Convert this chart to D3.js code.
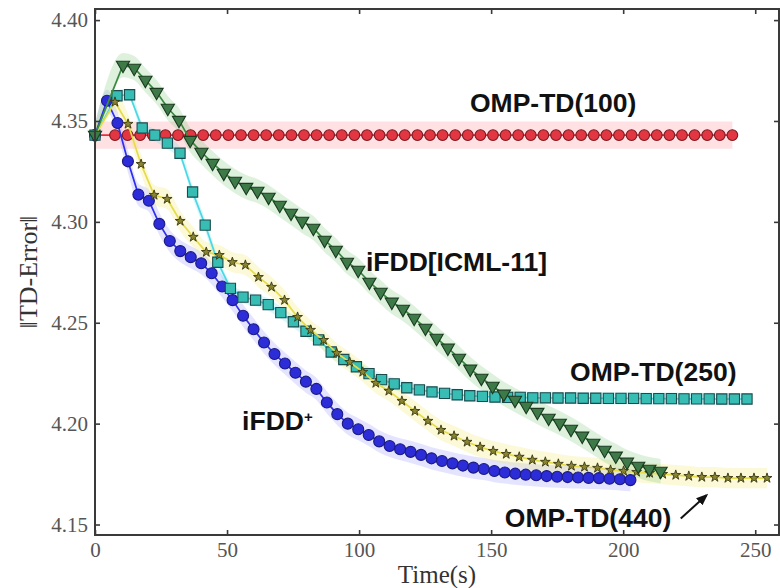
<!DOCTYPE html>
<html>
<head>
<meta charset="utf-8">
<script src="https://cdn.jsdelivr.net/npm/d3@7"></script>
<style>
  body { margin: 0; background: #fff; }
  svg { display: block; }
</style>
</head>
<body>
<svg id="chart" width="780" height="588"></svg>
<script>
// ---------------------------------------------------------------
// Data: TD-error norm over wall-clock time (seconds).
// Every run is evaluated at t = 0, then at regular checkpoints.
// ---------------------------------------------------------------
const xTicks = [0, 50, 100, 150, 200, 250];
const yTicks = [4.15, 4.20, 4.25, 4.30, 4.35, 4.40];

// OMP-TD(100)
const omp100FirstT = 7.57, omp100StepT = 4.771;
const omp100Values = [4.343,
  4.343, 4.343, 4.343, 4.343, 4.343, 4.343, 4.343, 4.343, 4.343, 4.343,
  4.343, 4.343, 4.343, 4.343, 4.343, 4.343, 4.343, 4.343, 4.343, 4.343,
  4.343, 4.343, 4.343, 4.343, 4.343, 4.343, 4.343, 4.343, 4.343, 4.343,
  4.343, 4.343, 4.343, 4.343, 4.343, 4.343, 4.343, 4.343, 4.343, 4.343,
  4.343, 4.343, 4.343, 4.343, 4.343, 4.343, 4.343, 4.343, 4.343, 4.343];

// iFDD+
const ifddPlusFirstT = 4.54, ifddPlusStepT = 3.964;
const ifddPlusValues = [4.343,
  4.360, 4.349, 4.330, 4.3135, 4.3105, 4.299, 4.2905, 4.2855, 4.2825, 4.2795,
  4.2745, 4.268, 4.2612, 4.2535, 4.2468, 4.2402, 4.2345, 4.2298, 4.2252, 4.2208,
  4.2172, 4.2105, 4.2047, 4.2000, 4.1972, 4.1944, 4.1912, 4.1889, 4.1873, 4.186,
  4.1845, 4.1828, 4.1815, 4.1803, 4.1792, 4.1782, 4.1775, 4.1765, 4.1758, 4.1752,
  4.1747, 4.1744, 4.174, 4.1737, 4.1735, 4.1733, 4.1731, 4.173, 4.1727, 4.1724,
  4.172];

// OMP-TD(250)
const omp250FirstT = 8.33, omp250StepT = 4.771;
const omp250Values = [4.343,
  4.3625, 4.363, 4.3465, 4.343, 4.339, 4.334, 4.3148, 4.2984, 4.280, 4.267,
  4.2627, 4.2612, 4.2590, 4.2550, 4.2505, 4.2458, 4.2415, 4.2355, 4.2318, 4.2282,
  4.2248, 4.2218, 4.2197, 4.2178, 4.2167, 4.2157, 4.2150, 4.2143, 4.2138, 4.2135,
  4.2132, 4.2130, 4.2130, 4.2128, 4.2128, 4.2127, 4.2127, 4.2126, 4.2126, 4.2125,
  4.2125, 4.2125, 4.2124, 4.2124, 4.2124, 4.2123, 4.2123, 4.2123, 4.2122, 4.2122,
  4.2122];

// OMP-TD(440)
const omp440FirstT = 7.57, omp440StepT = 4.938;
const omp440Values = [4.343,
  4.3594, 4.3485, 4.3286, 4.3133, 4.3113, 4.3004, 4.2925, 4.285, 4.2835, 4.280,
  4.2786, 4.2726, 4.2677, 4.2612, 4.2528, 4.2464, 4.2414, 4.235, 4.2305, 4.2256,
  4.2201, 4.2162, 4.2112, 4.2062, 4.2013, 4.1968, 4.1939, 4.1909, 4.1884, 4.1864,
  4.1849, 4.1835, 4.182, 4.181, 4.180, 4.179, 4.1785, 4.178, 4.177, 4.1765,
  4.176, 4.1755, 4.175, 4.1745, 4.174, 4.1735, 4.1735, 4.173, 4.173, 4.173,
  4.173];

// iFDD [ICML-11]
const ifddFirstT = 10.6, ifddStepT = 4.241;
const ifddValues = [4.343,
  4.3777, 4.3762, 4.3703, 4.3643, 4.3564, 4.3504, 4.3405, 4.3346, 4.3291, 4.3242,
  4.3202, 4.3172, 4.3153, 4.3123, 4.3083, 4.3044, 4.3004, 4.2969, 4.291, 4.286,
  4.2801, 4.2761, 4.2702, 4.2652, 4.2603, 4.2568, 4.2523, 4.2474, 4.2424, 4.2375,
  4.2325, 4.2271, 4.2226, 4.2186, 4.2147, 4.2117, 4.2087, 4.2057, 4.2028, 4.2003,
  4.1973, 4.1939, 4.1904, 4.1869, 4.184, 4.181, 4.179, 4.1775, 4.1765];

// half-width of the shaded confidence band of each run
const omp100Spread = 0.0068;
const ifddPlusSpread = 0.0055;
const omp250Spread = 0.0030;
const omp440Spread = 0.0050;
const ifddSpread = 0.0060;

// ---------------------------------------------------------------
const svg = d3.select("#chart");
const margin = { left: 95, right: 1, top: 9, bottom: 53 };
const W = 780, H = 588;

const x = d3.scaleLinear().domain([0, 259]).range([margin.left, W - margin.right]);
const y = d3.scaleLinear().domain([4.1448, 4.4055]).range([H - margin.bottom, margin.top]);

function makeRun(firstT, stepT, values) {
  const times = [0].concat(d3.range(values.length - 1).map(i => firstT + i * stepT));
  return values.map((v, i) => ({ t: times[i], v }));
}

const runs = [
  { name: "omp100", pts: makeRun(omp100FirstT, omp100StepT, omp100Values), spread: omp100Spread,
    band: "rgba(255,120,130,0.22)", line: "#e4303a", fill: "#e23642", stroke: "#7a1a20",
    symbol: d3.symbolCircle, size: 90, rot: 0, sw: 1.1 },
  { name: "ifddPlus", pts: makeRun(ifddPlusFirstT, ifddPlusStepT, ifddPlusValues), spread: ifddPlusSpread,
    band: "rgba(130,130,255,0.22)", line: "#2f2ff0", fill: "#2c2cd8", stroke: "#1a1a80",
    symbol: d3.symbolCircle, size: 95, rot: 0, sw: 1.1 },
  { name: "omp250", pts: makeRun(omp250FirstT, omp250StepT, omp250Values), spread: omp250Spread,
    band: "rgba(80,220,230,0.22)", line: "#4ad8e4", fill: "#38bdb4", stroke: "#1b4b4c",
    symbol: d3.symbolSquare, size: 105, rot: 0, sw: 1.1 },
  { name: "omp440", pts: makeRun(omp440FirstT, omp440StepT, omp440Values), spread: omp440Spread,
    band: "rgba(240,235,110,0.28)", line: "#e6dc4a", fill: "#8a8530", stroke: "#3a3812",
    symbol: d3.symbolStar, size: 30, rot: 0, sw: 0.9 },
  { name: "ifdd", pts: makeRun(ifddFirstT, ifddStepT, ifddValues), spread: ifddSpread,
    band: "rgba(120,200,120,0.25)", line: "#3b8a40", fill: "#3e7a48", stroke: "#1b3a20",
    symbol: d3.symbolTriangle, size: 75, rot: 180, sw: 1.1 }
];

// confidence bands (all drawn under the lines)
const bandG = svg.append("g");
runs.forEach(r => {
  const area = d3.area()
    .x(d => x(d.t))
    .y0(d => y(d.v - r.spread))
    .y1(d => y(d.v + r.spread))
    .curve(d3.curveMonotoneX);
  bandG.append("path").datum(r.pts)
    .attr("d", area)
    .attr("fill", r.band)
    .attr("stroke", "none");
});

// lines and markers
const line = d3.line().x(d => x(d.t)).y(d => y(d.v));
runs.forEach(r => {
  const g = svg.append("g").attr("class", r.name);
  g.append("path").datum(r.pts)
    .attr("d", line)
    .attr("fill", "none")
    .attr("stroke", r.line)
    .attr("stroke-width", 1.7);
  const sym = d3.symbol().type(r.symbol).size(r.size);
  g.selectAll("path.m").data(r.pts).join("path")
    .attr("class", "m")
    .attr("d", sym)
    .attr("transform", d => `translate(${x(d.t)},${y(d.v)}) rotate(${r.rot})`)
    .attr("fill", r.fill)
    .attr("stroke", r.stroke)
    .attr("stroke-width", r.sw);
});

// ---------------------------------------------------------------
// axes: ticks point inward on all four sides of the box
const axisColor = "#3a3a3a";
const tickFont = "'Liberation Serif', 'DejaVu Serif', serif";

const gx = svg.append("g").attr("transform", `translate(0,${H - margin.bottom})`)
  .call(d3.axisBottom(x).tickValues(xTicks).tickSizeInner(-5).tickSizeOuter(0).tickPadding(7));
const gy = svg.append("g").attr("transform", `translate(${margin.left},0)`)
  .call(d3.axisLeft(y).tickValues(yTicks).tickFormat(d3.format(".2f")).tickSizeInner(-5).tickSizeOuter(0).tickPadding(7));
const gt = svg.append("g").attr("transform", `translate(0,${margin.top})`)
  .call(d3.axisTop(x).tickValues(xTicks).tickSizeInner(-5).tickSizeOuter(0).tickFormat(""));
const gr = svg.append("g").attr("transform", `translate(${W - margin.right},0)`)
  .call(d3.axisRight(y).tickValues(yTicks).tickSizeInner(-5).tickSizeOuter(0).tickFormat(""));

[gx, gy, gt, gr].forEach(g => {
  g.select(".domain").remove();
  g.selectAll(".tick line").attr("stroke", axisColor).attr("stroke-width", 1.6);
  g.selectAll(".tick text").attr("fill", "#555").attr("font-family", tickFont).attr("font-size", 21);
});

// frame
svg.append("rect")
  .attr("x", margin.left).attr("y", margin.top)
  .attr("width", W - margin.right - margin.left)
  .attr("height", H - margin.bottom - margin.top)
  .attr("fill", "none").attr("stroke", axisColor).attr("stroke-width", 2);

// axis titles
svg.append("text")
  .attr("x", 437).attr("y", 583)
  .attr("text-anchor", "middle")
  .attr("font-family", tickFont).attr("font-size", 25).attr("fill", "#333")
  .text("Time(s)");
svg.append("text")
  .attr("transform", `translate(37,${(margin.top + H - margin.bottom) / 2}) rotate(-90)`)
  .attr("text-anchor", "middle")
  .attr("font-family", tickFont).attr("font-size", 26).attr("fill", "#333")
  .text("\u2016TD-Error\u2016");

// ---------------------------------------------------------------
// run labels
const labelFont = "'Liberation Sans', Arial, Helvetica, sans-serif";
function label(t, v, txt) {
  return svg.append("text")
    .attr("x", x(t)).attr("y", y(v))
    .attr("font-family", labelFont).attr("font-weight", "bold")
    .attr("font-size", 26.5).attr("fill", "#111")
    .text(txt);
}
label(142.0, 4.3545, "OMP-TD(100)");
label(102.6, 4.2757, "iFDD[ICML-11]");
label(179.9, 4.2212, "OMP-TD(250)");
label(155.2, 4.1489, "OMP-TD(440)");
const plus = label(55.7, 4.1969, "iFDD");
plus.append("tspan").attr("font-size", 15).attr("dy", -8).text("+");

// arrow pointing at the OMP-TD(440) curve
svg.append("defs").append("marker")
  .attr("id", "arrowhead").attr("viewBox", "0 0 10 10")
  .attr("refX", 8).attr("refY", 5)
  .attr("markerWidth", 6).attr("markerHeight", 6)
  .attr("orient", "auto")
  .append("path").attr("d", "M0,1 L10,5 L0,9 z").attr("fill", "#111");
svg.append("line")
  .attr("x1", x(221.8)).attr("y1", y(4.1530))
  .attr("x2", x(231.5)).attr("y2", y(4.1645))
  .attr("stroke", "#111").attr("stroke-width", 2)
  .attr("marker-end", "url(#arrowhead)");
</script>
</body>
</html>
